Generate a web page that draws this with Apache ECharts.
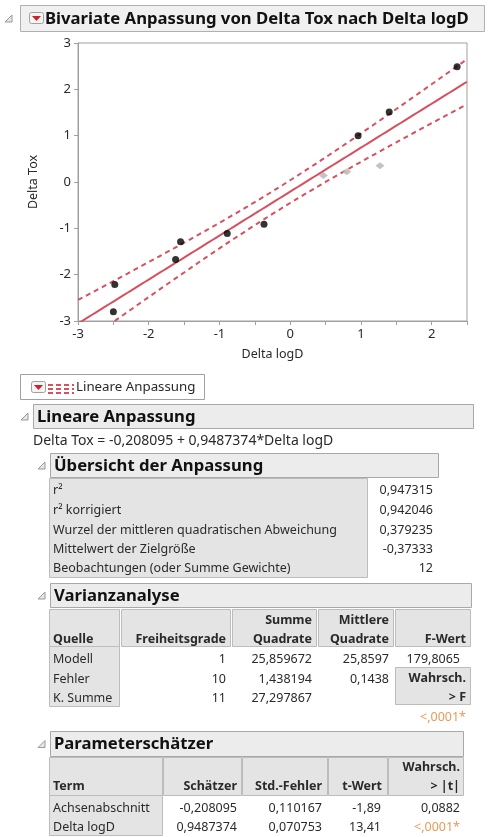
<!DOCTYPE html>
<html>
<head>
<meta charset="utf-8">
<title>Bivariate Anpassung von Delta Tox nach Delta logD</title>
<script src="https://cdn.jsdelivr.net/npm/echarts@6/dist/echarts.min.js"></script>
<style>
  html, body { margin: 0; padding: 0; background: #ffffff; }
  #main { width: 488px; height: 837px; }
</style>
</head>
<body>
<div id="main"></div>
<script>
// Observations (Delta logD vs. Delta Tox)
const xLogD = [-2.48, -2.50, -1.62, -1.55, -0.89, -0.37, 0.96, 1.40, 2.36];
const yTox = [-2.21, -2.80, -1.67, -1.29, -1.11, -0.91, 1.00, 1.51, 2.49];
// Observations drawn in grey
const xLogDGrey = [0.47, 0.80, 1.27];
const yToxGrey = [0.14, 0.22, 0.35];

// Fit results
const intercept = -0.208095;
const slope = 0.9487374;
const rmse = 0.379235;
const meanY = -0.37333;
const nObs = 12;
const ssModel = 25.859672;
const tCrit = 2.228; // t quantile, 10 DF, 95 %

// Axis ticks
const xTicks = [-3, -2, -1, 0, 1, 2];
const yTicks = [-3, -2, -1, 0, 1, 2, 3];

// Report texts
const reportTitle = 'Bivariate Anpassung von Delta Tox nach Delta logD';
const fitName = 'Lineare Anpassung';
const equation = 'Delta Tox = -0,208095 + 0,9487374*Delta logD';

const fitLabels = ['r\u00b2', 'r\u00b2 korrigiert', 'Wurzel der mittleren quadratischen Abweichung',
  'Mittelwert der Zielgr\u00f6\u00dfe', 'Beobachtungen (oder Summe Gewichte)'];
const fitValues = ['0,947315', '0,942046', '0,379235', '-0,37333', '12'];

const anovaSources = ['Modell', 'Fehler', 'K. Summe'];
const anovaDF = ['1', '10', '11'];
const anovaSS = ['25,859672', '1,438194', '27,297867'];
const anovaMS = ['25,8597', '0,1438', ''];
const anovaF = '179,8065';
const anovaP = '<,0001*';

const paramTerms = ['Achsenabschnitt', 'Delta logD'];
const paramEst = ['-0,208095', '0,9487374'];
const paramSE = ['0,110167', '0,070753'];
const paramT = ['-1,89', '13,41'];
const paramP = ['0,0882', '<,0001*'];

// ---------------------------------------------------------------
const RED = '#d8505e';
const FONT = '"Noto Sans", "DejaVu Sans", sans-serif';
const TXT = '#2a2a2a';
const HEAD = 16.7;

const xMin = -3, xMax = 2.5;
const xBar = (meanY - intercept) / slope;
const sxx = ssModel / (slope * slope);

// fitted line and 95 % confidence band of the mean
const fitLine = [], upperBand = [], lowerBand = [];
for (let i = 0; i <= 110; i++) {
  const x = xMin + i * (xMax - xMin) / 110;
  const yHat = intercept + slope * x;
  const half = tCrit * rmse * Math.sqrt(1 / nObs + (x - xBar) * (x - xBar) / sxx);
  fitLine.push([x, yHat]);
  upperBand.push([x, yHat + half]);
  lowerBand.push([x, yHat - half]);
}

const pts = xLogD.map((x, i) => [x, yTox[i]]);
const ptsGrey = xLogDGrey.map((x, i) => [x, yToxGrey[i]]);

// ---- report decoration helpers ----
const g = [];
function txt(x, y, s, opt) {
  opt = opt || {};
  g.push({
    type: 'text', z: 20,
    style: {
      x: x, y: y, text: s,
      fill: opt.color || TXT,
      font: (opt.bold ? 'bold ' : '') + (opt.size || 12) + 'px ' + FONT,
      textAlign: opt.align || 'left', align: opt.align || 'left',
      textVerticalAlign: 'middle', verticalAlign: 'middle'
    }
  });
}
function box(x, y, w, h, fill, stroke) {
  g.push({ type: 'rect', z: 10, shape: { x: x + 0.5, y: y + 0.5, width: w, height: h },
    style: { fill: fill, stroke: stroke, lineWidth: 1 } });
}
function disclosure(x, y) {
  g.push({ type: 'polygon', z: 12, shape: { points: [[x, y + 7], [x + 7, y + 7], [x + 7, y]] },
    style: { fill: '#e6e6e6', stroke: '#9a9a9a', lineWidth: 1 } });
}
function menuButton(x, y) {
  g.push({ type: 'rect', z: 12, shape: { x: x + 0.5, y: y + 0.5, width: 14, height: 11, r: 2 },
    style: { fill: '#f4f4f4', stroke: '#a0a0a0', lineWidth: 1 } });
  g.push({ type: 'polygon', z: 13, shape: { points: [[x + 3, y + 4], [x + 12, y + 4], [x + 7.5, y + 9]] },
    style: { fill: '#d0202a' } });
}
function section(x, y, w, h, label) {
  disclosure(x - 12, y + h / 2 - 3);
  box(x, y, w, h, '#ececec', '#a8a8a8');
  txt(x + 4, y + h / 2 + 1, label, { bold: true, size: HEAD, color: '#111' });
}

// Title bar
disclosure(5, 15);
box(20, 5, 464, 26, '#f0f0f0', '#b0b0b0');
menuButton(29, 12);
txt(45, 19, reportTitle, { bold: true, size: HEAD, color: '#111' });

// Legend box for the fit
box(20, 374, 184, 25, '#ffffff', '#a0a0a0');
menuButton(31, 381);
[385, 389, 393].forEach(yy => {
  g.push({ type: 'line', z: 12, shape: { x1: 48, y1: yy, x2: 74, y2: yy },
    style: { stroke: RED, lineWidth: 2, lineDash: [5, 3] } });
});
txt(76, 387, fitName, { size: 13.3 });

// Lineare Anpassung
section(33, 404, 440, 24, fitName);
txt(33, 441, equation, { size: 14 });

// Übersicht der Anpassung
section(50, 453, 388, 24, '\u00dcbersicht der Anpassung');
box(49, 478, 318, 99, '#e4e4e4', '#bcbcbc');
const fitRowY = [490, 510, 530, 549, 568];
fitLabels.forEach((s, i) => {
  txt(53, fitRowY[i], s, { size: 12.5 });
  txt(433, fitRowY[i], fitValues[i], { size: 12.5, align: 'right' });
});

// Varianzanalyse
section(50, 583, 421, 24, 'Varianzanalyse');
const aCols = [[49, 119], [121, 230], [232, 316], [318, 393], [395, 470]];
aCols.forEach(c => box(c[0], 609, c[1] - c[0], 37, '#e4e4e4', '#bcbcbc'));
box(49, 646, 70, 60, '#e4e4e4', '#bcbcbc');
box(395, 667, 75, 37, '#e4e4e4', '#bcbcbc');
txt(53, 639, 'Quelle', { bold: true, size: 12.5 });
txt(226, 639, 'Freiheitsgrade', { bold: true, size: 12.5, align: 'right' });
txt(312, 620, 'Summe', { bold: true, size: 12.5, align: 'right' });
txt(312, 639, 'Quadrate', { bold: true, size: 12.5, align: 'right' });
txt(389, 620, 'Mittlere', { bold: true, size: 12.5, align: 'right' });
txt(389, 639, 'Quadrate', { bold: true, size: 12.5, align: 'right' });
txt(466, 639, 'F-Wert', { bold: true, size: 12.5, align: 'right' });
const aRowY = [659, 679, 698];
anovaSources.forEach((s, i) => {
  txt(53, aRowY[i], s, { size: 12.5 });
  txt(226, aRowY[i], anovaDF[i], { size: 12.5, align: 'right' });
  txt(312, aRowY[i], anovaSS[i], { size: 12.5, align: 'right' });
  if (anovaMS[i]) txt(389, aRowY[i], anovaMS[i], { size: 12.5, align: 'right' });
});
txt(460, 659, anovaF, { size: 12.5, align: 'right' });
txt(466, 678, 'Wahrsch.', { bold: true, size: 12.5, align: 'right' });
txt(466, 697, '> F', { bold: true, size: 12.5, align: 'right' });
txt(466, 717, anovaP, { size: 12.5, align: 'right', color: '#e89a5a' });

// Parameterschätzer
section(50, 731, 413, 25, 'Parametersch\u00e4tzer');
const pCols = [[49, 162], [163, 241], [242, 327], [328, 387], [388, 463]];
pCols.forEach(c => box(c[0], 757, c[1] - c[0], 38, '#e4e4e4', '#bcbcbc'));
box(49, 795, 113, 40, '#e4e4e4', '#bcbcbc');
txt(53, 786, 'Term', { bold: true, size: 12.5 });
txt(237, 786, 'Sch\u00e4tzer', { bold: true, size: 12.5, align: 'right' });
txt(322, 786, 'Std.-Fehler', { bold: true, size: 12.5, align: 'right' });
txt(382, 786, 't-Wert', { bold: true, size: 12.5, align: 'right' });
txt(460, 767, 'Wahrsch.', { bold: true, size: 12.5, align: 'right' });
txt(460, 786, '> |t|', { bold: true, size: 12.5, align: 'right' });
const pRowY = [808, 827];
paramTerms.forEach((s, i) => {
  txt(53, pRowY[i], s, { size: 12.5 });
  txt(237, pRowY[i], paramEst[i], { size: 12.5, align: 'right' });
  txt(322, pRowY[i], paramSE[i], { size: 12.5, align: 'right' });
  txt(381, pRowY[i], paramT[i], { size: 12.5, align: 'right' });
  txt(460, pRowY[i], paramP[i], { size: 12.5, align: 'right',
    color: paramP[i].indexOf('*') >= 0 ? '#e89a5a' : TXT });
});

// ---- chart ----
const chart = echarts.init(document.getElementById('main'));
chart.setOption({
  animation: false,
  backgroundColor: '#ffffff',
  grid: { left: 78, top: 43, right: 21, bottom: 516, show: true,
    borderColor: '#a0a0a0', borderWidth: 1, backgroundColor: '#ffffff' },
  xAxis: {
    type: 'value', min: xMin, max: xMax, interval: 0.5,
    name: 'Delta logD', nameLocation: 'middle', nameGap: 27,
    nameTextStyle: { color: TXT, fontSize: 12.5, fontFamily: FONT },
    axisLine: { onZero: false, lineStyle: { color: '#a0a0a0' } },
    axisTick: { length: 4, lineStyle: { color: '#a0a0a0' } },
    splitLine: { show: false },
    axisLabel: { color: TXT, fontSize: 13, fontFamily: FONT, margin: 7,
      formatter: v => xTicks.indexOf(v) >= 0 ? String(v) : '' }
  },
  yAxis: {
    type: 'value', min: yTicks[0], max: yTicks[yTicks.length - 1], interval: 1,
    name: 'Delta Tox', nameLocation: 'middle', nameGap: 38, nameRotate: 90,
    nameTextStyle: { color: TXT, fontSize: 12.5, fontFamily: FONT },
    axisLine: { show: true, onZero: false, lineStyle: { color: '#a0a0a0' } },
    axisTick: { show: true, length: 4, lineStyle: { color: '#a0a0a0' } },
    splitLine: { show: false },
    axisLabel: { color: TXT, fontSize: 13, fontFamily: FONT, margin: 7 }
  },
  series: [
    { type: 'line', data: upperBand, showSymbol: false, clip: true,
      lineStyle: { color: RED, width: 2, type: [5, 4] }, z: 3, silent: true },
    { type: 'line', data: lowerBand, showSymbol: false, clip: true,
      lineStyle: { color: RED, width: 2, type: [5, 4] }, z: 3, silent: true },
    { type: 'line', data: fitLine, showSymbol: false, clip: true,
      lineStyle: { color: RED, width: 2 }, z: 3, silent: true },
    { type: 'scatter', data: ptsGrey, symbol: 'diamond', symbolSize: [9, 7],
      itemStyle: { color: '#b4b4b4' }, z: 4 },
    { type: 'scatter', data: pts, symbol: 'circle', symbolSize: 7,
      itemStyle: { color: '#000000' }, z: 5 }
  ],
  graphic: { elements: g }
});
</script>
</body>
</html>
